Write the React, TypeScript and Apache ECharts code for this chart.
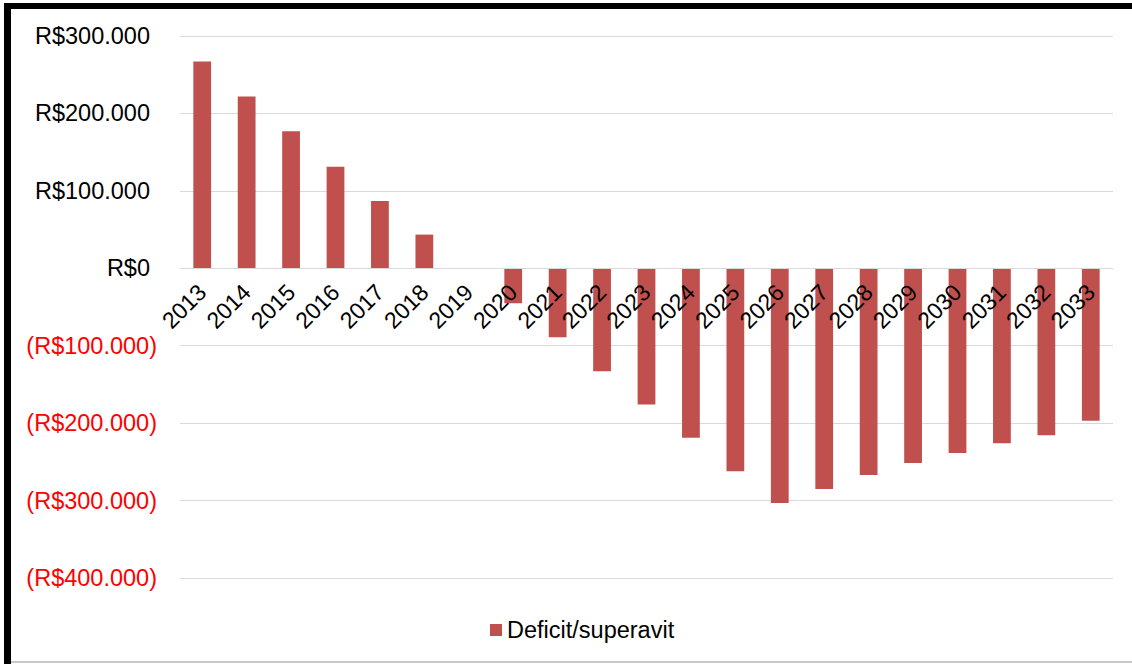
import React, { useEffect, useRef } from "react";
import * as echarts from "echarts";

const years = [
  "2013", "2014", "2015", "2016", "2017", "2018", "2019", "2020", "2021", "2022", "2023",
  "2024", "2025", "2026", "2027", "2028", "2029", "2030", "2031", "2032", "2033",
];
const deficitSuperavit = [
  267000, 222000, 177000, 131000, 87000, 43500, 0, -45000, -89000, -133000, -176000,
  -219000, -262000, -303000, -285000, -267000, -251500, -238500, -226000, -215500, -197000,
];
const seriesName = "Deficit/superavit";
const yMin = -400000;
const yMax = 300000;
const yStep = 100000;

const FONT = "'Liberation Sans', Arial, sans-serif";
const GRID_TOP = 36;
const GRID_BOTTOM = 86;
const CHART_H = 664;

function fmtThousands(n: number): string {
  return String(Math.round(n)).replace(/\B(?=(\d{3})+(?!\d))/g, ".");
}

export default function App() {
  const ref = useRef<HTMLDivElement>(null);
  useEffect(() => {
    if (!ref.current) return;
    const chart = echarts.init(ref.current, null, { renderer: "svg" });
    // place the category axis at the zero line (axis offset from bottom)
    const plotH = CHART_H - GRID_TOP - GRID_BOTTOM;
    const zeroOffset = (-yMin / (yMax - yMin)) * plotH;
    chart.setOption({
      animation: false,
      backgroundColor: "#ffffff",
      textStyle: { fontFamily: FONT },
      grid: { left: 180, right: 19, top: GRID_TOP, bottom: GRID_BOTTOM, containLabel: false },
      legend: {
        data: [seriesName],
        left: 485,
        top: 613,
        icon: "rect",
        itemWidth: 12,
        itemHeight: 12,
        textStyle: { fontSize: 23.5, color: "#000", fontFamily: FONT },
      },
      xAxis: {
        type: "category",
        data: years,
        position: "bottom",
        offset: -zeroOffset,
        axisLine: { onZero: false, lineStyle: { color: "#D9D9D9", width: 1 } },
        axisTick: { show: false },
        axisLabel: {
          rotate: 45,
          margin: 20,
          fontSize: 23,
          color: "#000",
          fontFamily: FONT,
          interval: 0,
        },
        z: 5,
      },
      yAxis: {
        type: "value",
        min: yMin,
        max: yMax,
        interval: yStep,
        axisLine: { show: false },
        axisTick: { show: false },
        splitLine: { lineStyle: { color: "#D9D9D9", width: 1 } },
        axisLabel: {
          margin: 23,
          formatter: (v: number) => {
            if (v < 0) return "{neg|(R$" + fmtThousands(-v) + ")}";
            return "{pos|R$" + fmtThousands(v) + "}";
          },
          rich: {
            pos: { color: "#000", fontSize: 23.5, fontFamily: FONT, padding: [0, 7, 0, 0] },
            neg: { color: "#FF0000", fontSize: 23.5, fontFamily: FONT },
          },
        },
      },
      series: [
        {
          name: seriesName,
          type: "bar",
          data: deficitSuperavit,
          barWidth: "40%",
          itemStyle: { color: "#C0504D" },
          z: 2,
        },
      ],
      graphic: [
        { type: "rect", shape: { x: 4, y: 3, width: 7, height: 661 }, style: { fill: "#000" }, silent: true },
        { type: "rect", shape: { x: 4, y: 3, width: 1128, height: 6 }, style: { fill: "#000" }, silent: true },
        { type: "rect", shape: { x: 11, y: 661, width: 1121, height: 2 }, style: { fill: "#C8C8C8" }, silent: true },
      ],
    });
    return () => chart.dispose();
  }, []);
  return (
    <div
      ref={ref}
      style={{ position: "fixed", left: 0, top: 0, width: 1132, height: 664, background: "#fff" }}
    />
  );
}
